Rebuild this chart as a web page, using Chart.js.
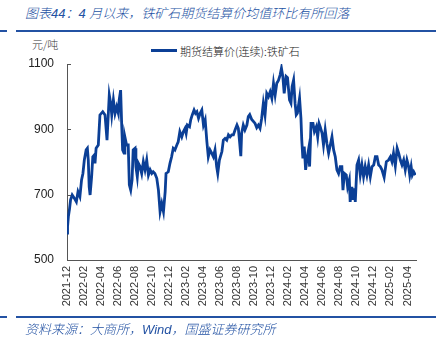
<!DOCTYPE html>
<html>
<head>
<meta charset="utf-8">
<script src="https://cdn.jsdelivr.net/npm/chart.js@4/dist/chart.umd.min.js"></script>
<style>
  html, body { margin:0; padding:0; background:#fff; }
  #wrap { position:relative; width:446px; height:351px; overflow:hidden; background:#fff; }
  #c { position:absolute; left:0; top:0; }
  .txt { position:absolute; white-space:nowrap; font-family:"Liberation Sans","Noto Sans CJK SC",sans-serif; }
  .title { left:25px; top:3px; font-size:13px; font-style:italic; color:#2352a3; font-weight:300; }
  .foot { left:25px; top:319px; font-size:13px; font-style:italic; color:#2352a3; font-weight:300; }
  .rule { position:absolute; height:2px; background:#2352a3; }
  .unit { left:32px; top:36px; font-size:11px; color:#333; font-family:"Noto Sans CJK SC",sans-serif; font-weight:300; }
  .legline { position:absolute; left:151px; top:49px; width:26px; height:3px; background:#0b3f96; }
  .legtxt { left:180px; top:43px; font-size:11px; color:#222; font-family:"Noto Sans CJK SC",sans-serif; font-weight:300; }
</style>
</head>
<body>
<div id="wrap">
  <div class="txt title">图表44：4 月以来，铁矿石期货结算价均值环比有所回落</div>
  <div class="rule" style="left:0;top:30px;width:7px;"></div>
  <div class="rule" style="left:16px;top:30px;width:420px;"></div>
  <div class="txt unit">元/吨</div>
  <div class="legline"></div>
  <div class="txt legtxt">期货结算价(连续):铁矿石</div>
  <canvas id="c" width="446" height="351"></canvas>
  <div class="rule" style="left:0;top:316px;width:7px;"></div>
  <div class="rule" style="left:16px;top:316px;width:420px;"></div>
  <div class="txt foot">资料来源：大商所，Wind，国盛证券研究所</div>
</div>
<script>
const seriesName = '期货结算价(连续):铁矿石';
const tickLabels = ['2021-12','2022-02','2022-04','2022-06','2022-08','2022-10','2022-12','2023-02','2023-04','2023-06','2023-08','2023-10','2023-12','2024-02','2024-04','2024-06','2024-08','2024-10','2024-12','2025-02','2025-04'];
const yTicks = [500, 700, 900, 1100];
const dates = [
'2021-12-01','2021-12-03','2021-12-06','2021-12-10','2021-12-14','2021-12-20','2021-12-27','2022-01-04','2022-01-10','2022-01-17','2022-01-23','2022-01-28',
'2022-02-02','2022-02-08','2022-02-12','2022-02-15','2022-02-18','2022-02-21','2022-02-26','2022-03-02','2022-03-07','2022-03-10','2022-03-14','2022-03-22',
'2022-03-28','2022-04-07','2022-04-15','2022-04-22','2022-04-30','2022-05-05','2022-05-09','2022-05-15','2022-05-21','2022-05-27','2022-06-02','2022-06-05',
'2022-06-10','2022-06-14','2022-06-17','2022-06-22','2022-06-25','2022-07-01','2022-07-07','2022-07-11','2022-07-16','2022-07-21','2022-07-25','2022-08-01',
'2022-08-04','2022-08-09','2022-08-13','2022-08-19','2022-08-25','2022-08-31','2022-09-06','2022-09-12','2022-09-18','2022-09-24','2022-09-30','2022-10-05',
'2022-10-11','2022-10-18','2022-10-24','2022-10-30','2022-11-05','2022-11-11','2022-11-17','2022-11-20','2022-11-28','2022-12-04','2022-12-10','2022-12-16',
'2022-12-22','2022-12-29','2023-01-03','2023-01-09','2023-01-16','2023-01-22','2023-01-28','2023-02-01','2023-02-05','2023-02-12','2023-02-16','2023-02-21',
'2023-02-27','2023-03-04','2023-03-09','2023-03-15','2023-03-21','2023-03-27','2023-04-02','2023-04-08','2023-04-14','2023-04-19','2023-04-25','2023-05-01',
'2023-05-07','2023-05-13','2023-05-19','2023-05-23','2023-05-29','2023-06-07','2023-06-12','2023-06-18','2023-06-24','2023-06-30','2023-07-06','2023-07-12',
'2023-07-18','2023-07-24','2023-07-31','2023-08-05','2023-08-10','2023-08-14','2023-08-17','2023-08-23','2023-08-29','2023-09-05','2023-09-10','2023-09-15',
'2023-09-22','2023-10-04','2023-10-10','2023-10-16','2023-10-22','2023-10-28','2023-11-03','2023-11-09','2023-11-15','2023-11-21','2023-11-27','2023-12-03',
'2023-12-09','2023-12-15','2023-12-21','2023-12-27','2024-01-02','2024-01-07','2024-01-12','2024-01-17','2024-01-24','2024-01-29','2024-02-05','2024-02-10',
'2024-02-14','2024-02-19','2024-02-24','2024-02-28','2024-03-03','2024-03-11','2024-03-16','2024-03-19','2024-03-23','2024-03-28','2024-04-02','2024-04-07',
'2024-04-12','2024-04-16','2024-04-21','2024-04-28','2024-05-03','2024-05-10','2024-05-15','2024-05-20','2024-05-24','2024-05-31','2024-06-05','2024-06-11',
'2024-06-17','2024-06-23','2024-06-29','2024-07-05','2024-07-11','2024-07-17','2024-07-23','2024-07-29','2024-08-04','2024-08-10','2024-08-14','2024-08-19',
'2024-08-26','2024-08-31','2024-09-06','2024-09-09','2024-09-15','2024-09-19','2024-09-23','2024-09-27','2024-10-03','2024-10-09','2024-10-15','2024-10-21',
'2024-10-27','2024-11-02','2024-11-08','2024-11-14','2024-11-20','2024-11-26','2024-12-02','2024-12-08','2024-12-14','2024-12-20','2024-12-26','2025-01-01',
'2025-01-09','2025-01-17','2025-01-25','2025-02-01','2025-02-06','2025-02-11','2025-02-17','2025-02-23','2025-02-28','2025-03-06','2025-03-12','2025-03-18',
'2025-03-24','2025-03-30','2025-04-05','2025-04-09','2025-04-14','2025-04-18','2025-04-23','2025-04-29'
];
const prices = [
582,602,633,655,684,699,690,678,709,694,745,765,
806,837,842,806,724,699,755,816,821,796,842,852,
944,954,944,867,1005,980,944,990,949,969,949,990,
1020,908,837,827,877,852,852,730,714,745,837,842,
786,755,796,786,765,801,776,806,760,776,765,770,
765,750,714,648,673,648,709,765,770,796,816,842,
837,852,862,893,877,893,903,888,913,908,929,944,
959,949,954,934,949,959,913,929,862,816,837,827,
816,837,786,765,806,832,867,872,867,883,877,883,
883,898,913,903,857,818,888,913,898,913,939,945,
930,918,905,913,903,934,980,944,1010,1000,1015,995,
1041,1005,1041,1050,1066,1087,1062,1010,1062,1058,990,980,
1031,1051,980,944,949,995,934,867,811,847,776,811,
837,786,918,918,893,908,877,918,908,888,852,898,
857,827,852,877,837,816,776,765,786,786,714,765,
760,724,745,678,724,684,719,678,791,806,760,791,
755,786,760,791,755,786,791,816,816,791,786,776,
753,801,806,816,801,827,788,842,827,806,791,806,
776,806,786,760,786,760,770,760
];

function monthIndex(s) {
  const p = s.split('-').map(Number);
  const y = p[0], m = p[1], d = p[2] || 1;
  const dim = new Date(y, m, 0).getDate();
  return (y - 2021) * 12 + (m - 12) + (d - 1) / dim;
}
const points = dates.map((d, i) => ({ x: monthIndex(d), y: prices[i] }));
const tickPos = tickLabels.map(monthIndex);

const innerTicks = {
  id: 'innerTicks',
  afterDatasetsDraw(chart) {
    const ctx = chart.ctx, ys = chart.scales.y, left = chart.chartArea.left;
    ctx.save();
    ctx.strokeStyle = '#555';
    ctx.lineWidth = 1;
    yTicks.forEach(v => {
      const py = Math.round(ys.getPixelForValue(v)) + 0.5;
      ctx.beginPath(); ctx.moveTo(left, py); ctx.lineTo(left + 4, py); ctx.stroke();
    });
    ctx.restore();
  }
};

new Chart(document.getElementById('c'), {
  type: 'line',
  data: { datasets: [{ label: seriesName, data: points, borderColor: '#0b3f96', borderWidth: 2.8, pointRadius: 0, tension: 0, fill: false }] },
  options: {
    responsive: false, animation: false, events: [],
    layout: { padding: { left: 0, right: 30, top: 64, bottom: 0 } },
    plugins: { legend: { display: false }, tooltip: { enabled: false } },
    scales: {
      x: {
        type: 'linear', min: 0, max: 41,
        afterBuildTicks: s => { s.ticks = tickPos.map(v => ({ value: v })); },
        afterFit: s => { s.height = 91; },
        grid: { display: false, drawTicks: false },
        border: { display: true, color: '#555', width: 1 },
        ticks: {
          autoSkip: false, minRotation: 90, maxRotation: 90, padding: 6,
          color: '#333', font: { family: 'Liberation Sans', size: 11 },
          callback: (v) => { const i = tickPos.findIndex(t => Math.abs(t - v) < 1e-6); return i >= 0 ? tickLabels[i] : ''; }
        }
      },
      y: {
        min: 500, max: 1100,
        afterBuildTicks: s => { s.ticks = yTicks.map(v => ({ value: v })); },
        afterFit: s => { s.width = 67; },
        grid: { display: false, drawTicks: false },
        border: { display: true, color: '#555', width: 1 },
        ticks: { padding: 13, color: '#222', font: { family: 'Liberation Sans', size: 12 }, callback: v => String(v) }
      }
    }
  },
  plugins: [innerTicks]
});
</script>
</body>
</html>
